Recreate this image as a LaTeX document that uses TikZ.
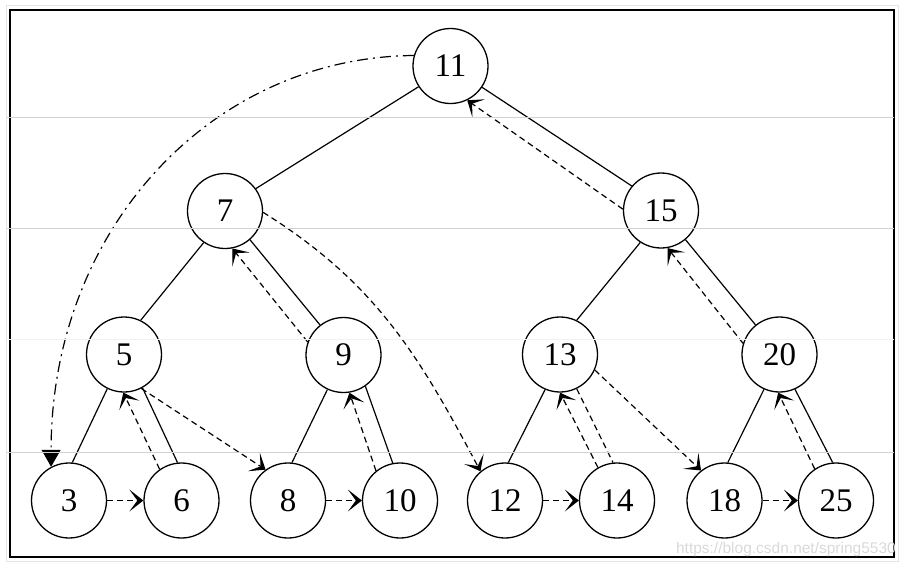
\documentclass[tikz,border=0pt]{standalone}
\usepackage{fontspec}
\setmainfont{Liberation Serif}
\newfontfamily\wmfont{Liberation Sans}
\usetikzlibrary{arrows.meta}
\tikzset{chev/.style={arrows={-Stealth[length=14pt,width=22pt,inset=8pt]}},
  tri/.style={arrows={-Triangle[length=17pt,width=19pt]}}}
\begin{document}
\begin{tikzpicture}[x=1pt,y=-1pt,
  tn/.style={circle,draw,line width=1.3pt,minimum size=75pt,inner sep=0pt,font=\fontsize{33}{33}\selectfont},
  edge/.style={line width=1.2pt},
  dsh/.style={line width=1.2pt,dash pattern=on 6pt off 4pt},
  dshdot/.style={line width=1.2pt,dash pattern=on 11pt off 5pt on 2pt off 5pt},
  guide/.style={line width=1pt}]
\useasboundingbox (0,0) rectangle (906,566);
% nodes
\node[tn] (n11) at (450.5,66) {11};
\node[tn] (n7)  at (225,211) {7};
\node[tn] (n15) at (661,210.5) {15};
\node[tn] (n5)  at (124,354.5) {5};
\node[tn] (n9)  at (343.5,355) {9};
\node[tn] (n13) at (560,354.5) {13};
\node[tn] (n20) at (779.5,354.5) {20};
\node[tn] (n3)  at (69,500.5) {3};
\node[tn] (n6)  at (181.5,500.5) {6};
\node[tn] (n8)  at (288,500.5) {8};
\node[tn] (n10) at (400,500.5) {10};
\node[tn] (n12) at (505,500.5) {12};
\node[tn] (n14) at (617,500.5) {14};
\node[tn] (n18) at (724.5,500.5) {18};
\node[tn] (n25) at (836,500.5) {25};
% tree edges
\draw[edge] (n11.-147) -- (n7.36);
\draw[edge] (n11.-34) -- (n15.140);
\draw[edge] (n7.-124) -- (n5.64);
\draw[edge] (n7.-49) -- (n9.128);
\draw[edge] (n15.-123) -- (n13.64);
\draw[edge] (n15.-50) -- (n20.129);
\draw[edge] (n5.-116) -- (n3.85);
\draw[edge] (n5.-61) -- (n6.96);
\draw[edge] (n9.-115) -- (n8.84);
\draw[edge] (n9.-55) -- (n10.101);
\draw[edge] (n13.-113) -- (n12.85);
\draw[dsh] (n13.-64) -- (n14.96);
\draw[edge] (n20.-114) -- (n18.85);
\draw[edge] (n20.-66) -- (n25.95);
% dashed thread arrows
\draw[dsh,chev] (n15.178) -- (n11.-64);
\draw[dsh,chev] (n9.160) -- (n7.-79);
\draw[dsh,chev] (n6.125) -- (n5.-91);
\draw[dsh,chev] (n10.129) -- (n9.-81);
\draw[dsh,chev] (n14.120) -- (n13.-90);
\draw[dsh,chev] (n20.163) -- (n15.-80);
\draw[dsh,chev] (n25.124) -- (n20.-92);
\draw[dsh,chev] (n5.-63) -- (n8.126);
\draw[dsh,chev] (n13.-24) -- (n18.128);
\draw[dsh,chev] (n7.-2) to[out=-32,in=118] (n12.130);
\draw[dsh,chev] (n3) -- (n6);
\draw[dsh,chev] (n8) -- (n10);
\draw[dsh,chev] (n12) -- (n14);
\draw[dsh,chev] (n18) -- (n25);
\draw[dshdot,tri] (n11.164) .. controls +(-205,2) and +(0,-235) .. (n3.118);
% frame
\draw[gray!20,line width=1pt] (6.5,5.5) rectangle (898.5,561.5);
\draw[line width=2pt] (10,10) rectangle (894,557);
% faint guide lines
\draw[guide,gray!35] (7,117) -- (894,117);
\draw[guide,gray!35] (7,228) -- (894,228);
\draw[guide,gray!10] (7,339) -- (894,339);
\draw[guide,gray!35] (7,452) -- (894,452);
% watermark
\node[anchor=base east,text=gray!30,font=\wmfont\fontsize{15.5}{15.5}\selectfont,inner sep=0pt] (wm) at (896,553) {https://blog.csdn.net/spring5530};
\end{tikzpicture}
\end{document}
